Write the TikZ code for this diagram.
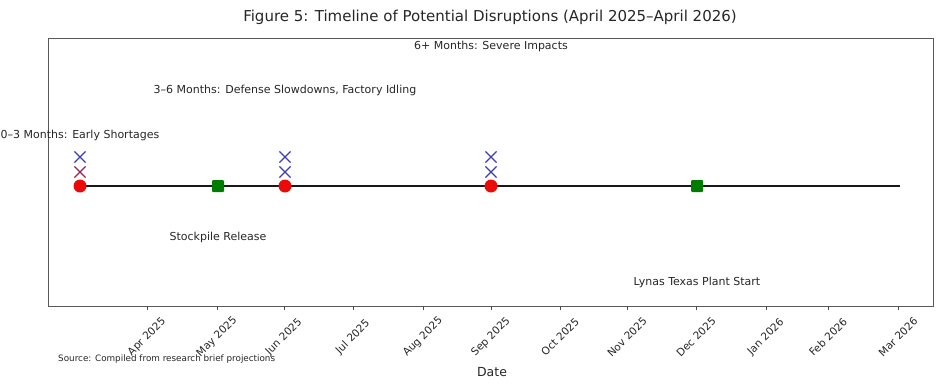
\documentclass[tikz,border=0pt]{standalone}
\usepackage{fontspec}
\setmainfont{DejaVu Sans}
\usetikzlibrary{shapes.misc}
\definecolor{xblue}{RGB}{60,60,185}
\definecolor{xpurple}{RGB}{150,35,80}
\definecolor{mred}{RGB}{235,10,10}
\definecolor{mgreen}{RGB}{0,125,0}
\begin{document}
\begin{tikzpicture}[x=1pt,y=-1pt,
  lbl/.style={font=\fontsize{11}{13}\selectfont, text=black!85, inner sep=0pt},
  ticklbl/.style={font=\fontsize{10.5}{12}\selectfont, text=black!85, inner sep=0pt, rotate=45},
  redpt/.style={circle, fill=mred, minimum size=13pt, inner sep=0pt},
  greenpt/.style={rectangle, fill=mgreen, minimum size=12pt, inner sep=0pt, rounded corners=1pt},
  xmark/.style={draw=#1, line width=1.2pt, cross out, minimum size=10pt, inner sep=0pt},
  tickmark/.style={draw=black!70, line width=0.8pt}
]
\useasboundingbox (0,0) rectangle (936,384);
% title
\node[font=\fontsize{15}{18}\selectfont, text=black!85, inner sep=0pt] (title) at (490,17) {Figure 5: Timeline of Potential Disruptions (April 2025–April 2026)};
% axes frame
\draw[black!65, line width=1pt] (48,38) rectangle (933,306);
\coordinate (lstart) at (80,186);
\coordinate (lend) at (900,186);
\draw[black!90, line width=2.2pt] (lstart) -- (lend);
% markers
\node[redpt] (r1) at (80,186) {};
\node[redpt] (r2) at (285,186) {};
\node[redpt] (r3) at (491,186) {};
\node[greenpt] (g1) at (218,186) {};
\node[greenpt] (g2) at (697,186) {};
\node[xmark=xblue] (x1a) at (80,157) {};
\node[xmark=xpurple] (x1b) at (80,172) {};
\node[xmark=xblue] (x2a) at (285,157) {};
\node[xmark=xblue] (x2b) at (285,172) {};
\node[xmark=xblue] (x3a) at (491,157) {};
\node[xmark=xblue] (x3b) at (491,172) {};
% annotations
\node[lbl] (a1) at (80,135) {0–3 Months: Early Shortages};
\node[lbl] (a2) at (285,90) {3–6 Months: Defense Slowdowns, Factory Idling};
\node[lbl] (a3) at (491,46) {6+ Months: Severe Impacts};
\node[lbl] (a4) at (218,237) {Stockpile Release};
\node[lbl] (a5) at (697,282) {Lynas Texas Plant Start};
% ticks
\foreach \x/\t [count=\i] in {147/Apr 2025,217/May 2025,284/Jun 2025,353/Jul 2025,423/Aug 2025,491/Sep 2025,560/Oct 2025,627/Nov 2025,696/Dec 2025,766/Jan 2026,828/Feb 2026,898/Mar 2026}{
  \draw[tickmark] (\x,306) -- (\x,310);
  \node[ticklbl] (t\i) at (\x,337) {\t};
}
\node[font=\fontsize{8.8}{10}\selectfont, text=black!85, inner sep=0pt, anchor=west] (src) at (58,359) {Source: Compiled from research brief projections};
\node[font=\fontsize{12.5}{14}\selectfont, text=black!85, inner sep=0pt] (date) at (492,372) {Date};
\end{tikzpicture}
\end{document}
